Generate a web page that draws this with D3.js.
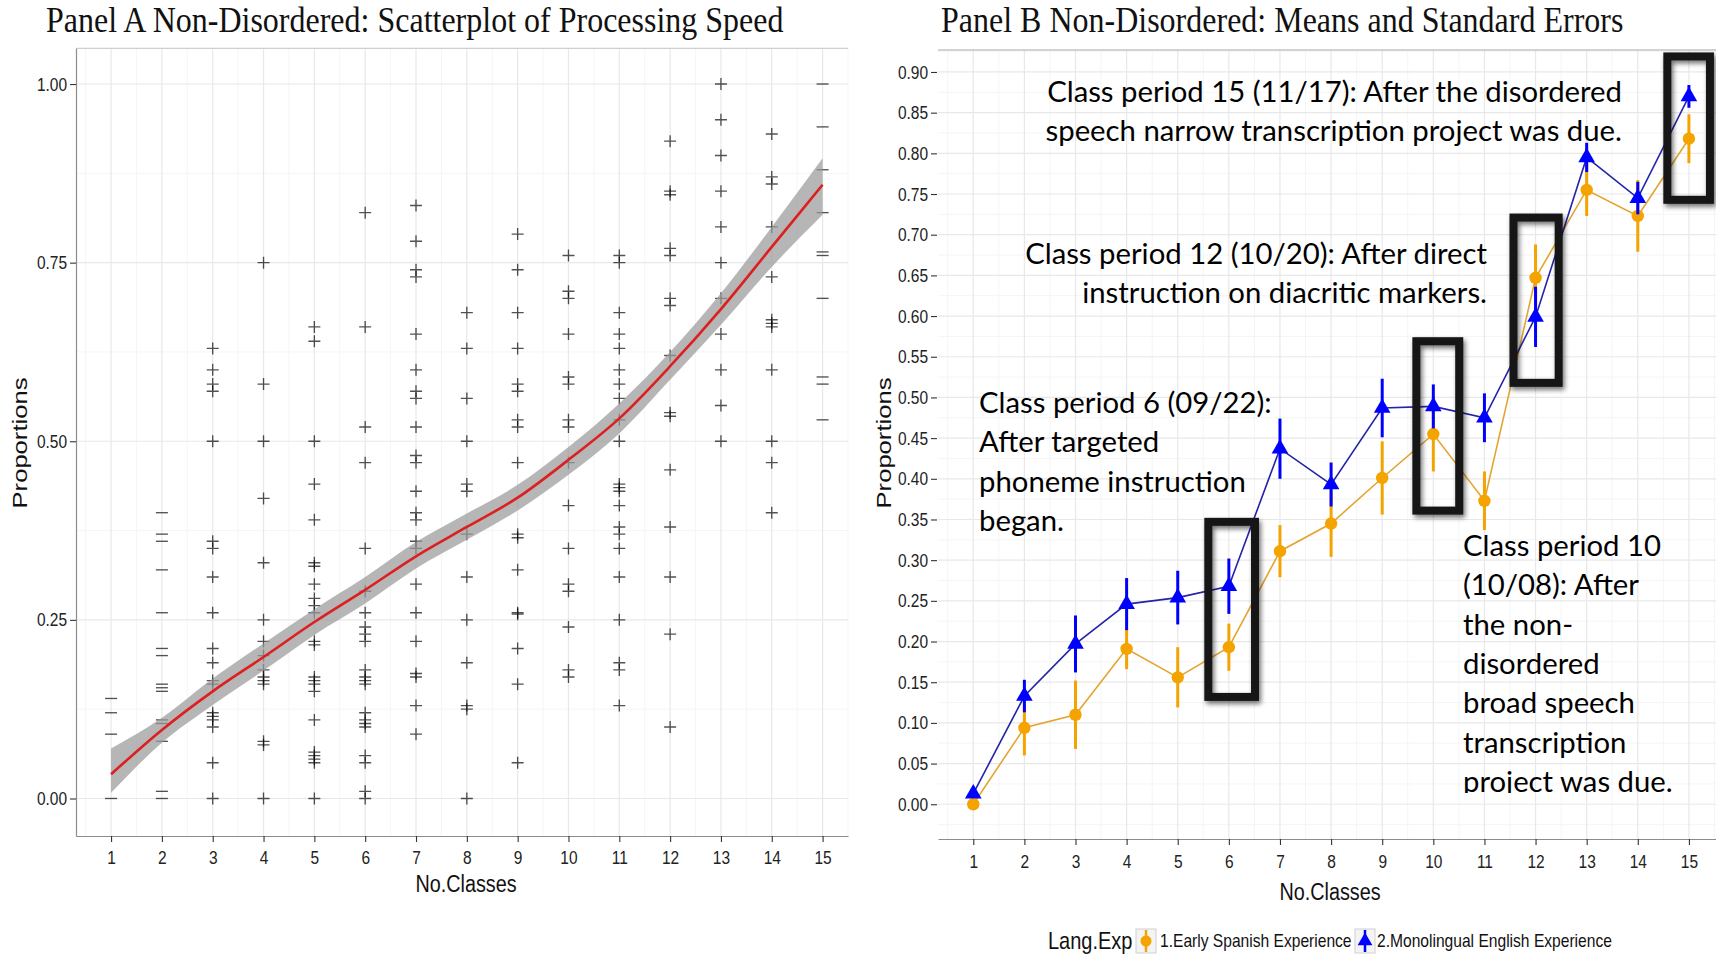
<!DOCTYPE html>
<html>
<head>
<meta charset="utf-8">
<script src="https://cdn.jsdelivr.net/npm/d3@7"></script>
<style>
  body { margin: 0; background: #fff; }
  svg { display: block; }
  .axis text { font-family: "Liberation Sans", Arial, sans-serif; fill: #222; }
</style>
</head>
<body>
<script>
(function() {

    //class periods (x categories)
    var classes = [1, 2, 3, 4, 5, 6, 7, 8, 9, 10, 11, 12, 13, 14, 15];

    //panel A: individual proportions per class period
    var speedPoints = [
        [0.14, 0.12, 0.09, 0.00],
        [0.40, 0.37, 0.36, 0.32, 0.26, 0.21, 0.20, 0.16, 0.155, 0.15, 0.11, 0.105, 0.08, 0.01, 0.00],
        [0.63, 0.60, 0.58, 0.57, 0.50, 0.36, 0.35, 0.31, 0.26, 0.21, 0.19, 0.165, 0.16, 0.12, 0.115, 0.11, 0.10, 0.05, 0.00],
        [0.75, 0.58, 0.50, 0.42, 0.33, 0.25, 0.22, 0.20, 0.18, 0.17, 0.165, 0.16, 0.08, 0.075, 0.00],
        [0.66, 0.64, 0.50, 0.44, 0.39, 0.33, 0.325, 0.30, 0.28, 0.27, 0.26, 0.22, 0.215, 0.17, 0.165, 0.16, 0.15, 0.11, 0.065, 0.06, 0.055, 0.05, 0.00],
        [0.82, 0.66, 0.52, 0.47, 0.35, 0.29, 0.26, 0.24, 0.23, 0.22, 0.18, 0.17, 0.165, 0.16, 0.12, 0.11, 0.105, 0.10, 0.06, 0.05, 0.01, 0.00],
        [0.83, 0.78, 0.74, 0.73, 0.65, 0.60, 0.57, 0.56, 0.52, 0.48, 0.47, 0.43, 0.40, 0.39, 0.36, 0.35, 0.30, 0.26, 0.22, 0.175, 0.17, 0.13, 0.09],
        [0.68, 0.63, 0.56, 0.50, 0.44, 0.43, 0.37, 0.31, 0.25, 0.19, 0.13, 0.125, 0.00],
        [0.79, 0.74, 0.68, 0.63, 0.58, 0.57, 0.53, 0.52, 0.47, 0.37, 0.365, 0.32, 0.26, 0.258, 0.21, 0.16, 0.05],
        [0.76, 0.71, 0.70, 0.65, 0.59, 0.58, 0.53, 0.52, 0.47, 0.41, 0.35, 0.30, 0.29, 0.24, 0.18, 0.17],
        [0.76, 0.75, 0.68, 0.65, 0.63, 0.60, 0.58, 0.56, 0.53, 0.50, 0.44, 0.435, 0.43, 0.41, 0.38, 0.37, 0.35, 0.31, 0.25, 0.19, 0.18, 0.13],
        [0.92, 0.85, 0.845, 0.77, 0.76, 0.70, 0.69, 0.62, 0.54, 0.535, 0.46, 0.38, 0.31, 0.23, 0.10],
        [1.00, 0.95, 0.90, 0.85, 0.80, 0.75, 0.70, 0.65, 0.60, 0.55, 0.50],
        [0.93, 0.87, 0.86, 0.80, 0.73, 0.67, 0.665, 0.66, 0.60, 0.50, 0.47, 0.40],
        [1.00, 0.94, 0.88, 0.82, 0.765, 0.76, 0.70, 0.59, 0.58, 0.53]
    ];
    //classes whose marks show only as dashes in the original
    var dashClasses = [1, 2, 15];

    //panel A: smoothed trend and its confidence band
    var fitMean  = [0.034, 0.096, 0.150, 0.198, 0.247, 0.292, 0.339, 0.380, 0.421, 0.474, 0.532, 0.605, 0.685, 0.772, 0.859];
    var fitLower = [0.008, 0.078, 0.131, 0.179, 0.229, 0.273, 0.322, 0.362, 0.403, 0.453, 0.511, 0.586, 0.663, 0.744, 0.817];
    var fitUpper = [0.070, 0.113, 0.168, 0.217, 0.265, 0.310, 0.359, 0.399, 0.439, 0.492, 0.553, 0.625, 0.707, 0.800, 0.896];

    //panel B: group means and standard errors
    var spanishMean = [0.000, 0.094, 0.110, 0.191, 0.156, 0.193, 0.311, 0.345, 0.401, 0.455, 0.373, 0.647, 0.755, 0.723, 0.818];
    var spanishSE   = [0.005, 0.034, 0.042, 0.025, 0.037, 0.029, 0.032, 0.041, 0.045, 0.046, 0.036, 0.041, 0.032, 0.044, 0.030];
    var englishMean = [0.013, 0.133, 0.197, 0.246, 0.254, 0.268, 0.437, 0.393, 0.487, 0.489, 0.475, 0.599, 0.795, 0.745, 0.870];
    var englishSE   = [0.004, 0.020, 0.035, 0.032, 0.033, 0.034, 0.037, 0.027, 0.036, 0.027, 0.030, 0.037, 0.018, 0.020, 0.014];
    var groupLabels = ["1.Early Spanish Experience", "2.Monolingual English Experience"];

    //tick labels
    var ticksA = [0, 0.25, 0.50, 0.75, 1.00];
    var ticksB = [0, 0.05, 0.10, 0.15, 0.20, 0.25, 0.30, 0.35, 0.40, 0.45, 0.50, 0.55, 0.60, 0.65, 0.70, 0.75, 0.80, 0.85, 0.90];

    //highlighted class periods in panel B (data units)
    var boxes = [
        {x0: 5.52, x1: 6.59, y0: 0.127, y1: 0.352},
        {x0: 9.59, x1: 10.585, y0: 0.356, y1: 0.574},
        {x0: 11.49, x1: 12.53, y0: 0.513, y1: 0.726},
        {x0: 14.50, x1: 15.49, y0: 0.738, y1: 0.924}
    ];

    //annotation texts (pixel layout)
    var notes = [
        {x: 1622, y: 102, anchor: "end", lines: ["Class period 15 (11/17): After the disordered", "speech narrow transcription project was due."]},
        {x: 1487, y: 264, anchor: "end", lines: ["Class period 12 (10/20): After direct", "instruction on diacritic markers."]},
        {x: 979, y: 413, anchor: "start", lines: ["Class period 6 (09/22):", "After targeted", "phoneme instruction", "began."]},
        {x: 1463, y: 556, anchor: "start", clip: 793, lines: ["Class period 10", "(10/08): After", "the non-", "disordered", "broad speech", "transcription", "project was due."]}
    ];

    var W = 1716, H = 955;
    var SY = 1.22; //the original picture is stretched vertically
    var orange = "#f4a300", orangeLine = "#e3a530", blue = "#0000ff", blueLine = "#2424a8";

    var svg = d3.select("body").append("svg")
        .attr("width", W)
        .attr("height", H);

    var defs = svg.append("defs");
    defs.append("filter")
        .attr("id", "shadow")
        .attr("x", "-30%").attr("y", "-30%").attr("width", "160%").attr("height", "160%")
        .append("feDropShadow")
        .attr("dx", 2).attr("dy", 3)
        .attr("stdDeviation", 2.5)
        .attr("flood-color", "#000")
        .attr("flood-opacity", 0.55);

    //helper for vertically stretched text
    function addText(parent, x, y, str, size, family, anchor, rotate, sy) {
        var g = parent.append("g")
            .attr("transform", "translate(" + x + "," + y + ") scale(1," + (sy || SY) + ")" + (rotate ? " rotate(-90)" : ""));
        return g.append("text")
            .attr("text-anchor", anchor || "start")
            .style("font-family", family)
            .style("font-size", size + "px")
            .style("fill", "#111")
            .text(str);
    }

    var sans = "'Liberation Sans', Arial, sans-serif",
        serif = "'Liberation Serif', 'Times New Roman', serif";

    //titles
    addText(svg, 46, 32, "Panel A Non-Disordered: Scatterplot of Processing Speed", 32, serif, "start", false, 1.12);
    addText(svg, 941, 32, "Panel B Non-Disordered: Means and Standard Errors", 32, serif, "start", false, 1.12);

    //grid drawing
    function drawGrid(g, x, y, xMajor, xMinor, yMajor, yMinor) {
        var r = x.range(), ry = y.range();
        g.selectAll(".vminor").data(xMinor).enter().append("line")
            .attr("x1", x).attr("x2", x).attr("y1", ry[0]).attr("y2", ry[1])
            .style("stroke", "#f5f5f5").style("stroke-width", 1);
        g.selectAll(".hminor").data(yMinor).enter().append("line")
            .attr("y1", y).attr("y2", y).attr("x1", r[0]).attr("x2", r[1])
            .style("stroke", "#f5f5f5").style("stroke-width", 1);
        g.selectAll(".vmajor").data(xMajor).enter().append("line")
            .attr("x1", x).attr("x2", x).attr("y1", ry[0]).attr("y2", ry[1])
            .style("stroke", "#e8e8e8").style("stroke-width", 1.2);
        g.selectAll(".hmajor").data(yMajor).enter().append("line")
            .attr("y1", y).attr("y2", y).attr("x1", r[0]).attr("x2", r[1])
            .style("stroke", "#e8e8e8").style("stroke-width", 1.2);
    }

    function halfSteps(arr) {
        var out = [arr[0] - (arr[1] - arr[0]) / 2];
        arr.forEach(function(v, i) {
            var step = (i < arr.length - 1) ? arr[i + 1] - v : v - arr[i - 1];
            out.push(v + step / 2);
        });
        return out;
    }

    function styleAxis(ax, withDomain) {
        ax.selectAll(".tick line").style("stroke", "#333").style("stroke-width", 1.1);
        ax.selectAll("text").attr("transform", "scale(1," + SY + ")");
        if (withDomain) {
            ax.select(".domain").style("stroke", "#8c8c8c").style("stroke-width", 1.2);
        } else {
            ax.select(".domain").remove();
        }
    }

    // ---------------- Panel A ----------------
    var xA = d3.scaleLinear().domain([0.31, 15.5]).range([76, 848]);
    var yA = d3.scaleLinear().domain([-0.0525, 1.05]).range([836, 48.3]);

    var panelA = svg.append("g").attr("class", "panelA");
    drawGrid(panelA, xA, yA, classes, halfSteps(classes), ticksA, halfSteps(ticksA).slice(1, 5));

    panelA.append("line")
        .attr("x1", 76).attr("x2", 848).attr("y1", 48.3).attr("y2", 48.3)
        .style("stroke", "#cfcfcf").style("stroke-width", 1.2);

    //scatter marks
    var flat = [];
    speedPoints.forEach(function(col, i) {
        col.forEach(function(v) { flat.push({c: classes[i], v: v}); });
    });
    var arm = 6;
    panelA.selectAll(".mark").data(flat).enter().append("path")
        .attr("class", "mark")
        .attr("d", function(d) {
            var cx = xA(d.c), cy = yA(d.v);
            var p = "M" + (cx - arm) + "," + cy + "H" + (cx + arm);
            if (dashClasses.indexOf(d.c) < 0) p += "M" + cx + "," + (cy - arm) + "V" + (cy + arm);
            return p;
        })
        .style("stroke", "#000")
        .style("stroke-width", 1.35)
        .style("opacity", 0.68)
        .style("fill", "none");

    //confidence band and trend
    var fitData = classes.map(function(c, i) { return {c: c, m: fitMean[i], lo: fitLower[i], hi: fitUpper[i]}; });
    panelA.append("path")
        .datum(fitData)
        .attr("d", d3.area()
            .x(function(d) { return xA(d.c); })
            .y0(function(d) { return yA(d.lo); })
            .y1(function(d) { return yA(d.hi); })
            .curve(d3.curveMonotoneX))
        .style("fill", "#9a9a9a")
        .style("opacity", 0.72);
    panelA.append("path")
        .datum(fitData)
        .attr("d", d3.line()
            .x(function(d) { return xA(d.c); })
            .y(function(d) { return yA(d.m); })
            .curve(d3.curveMonotoneX))
        .style("fill", "none")
        .style("stroke", "#dd1f1f")
        .style("stroke-width", 2.6);

    //axes
    var axAy = panelA.append("g").attr("class", "axis")
        .attr("transform", "translate(76,0)")
        .call(d3.axisLeft(yA).tickValues(ticksA).tickFormat(d3.format(".2f")).tickSize(6).tickSizeOuter(0).tickPadding(3));
    axAy.selectAll("text").style("font-size", "15.5px");
    styleAxis(axAy, true);

    var axAx = panelA.append("g").attr("class", "axis")
        .attr("transform", "translate(0,836)")
        .call(d3.axisBottom(xA).tickValues(classes).tickFormat(d3.format("d")).tickSize(6).tickSizeOuter(0).tickPadding(6));
    axAx.selectAll("text").style("font-size", "15.5px");
    styleAxis(axAx, true);

    addText(panelA, 466, 892, "No.Classes", 19.8, sans, "middle");
    addText(panelA, 27, 443, "Proportions", 21, sans, "middle", true);

    // ---------------- Panel B ----------------
    var xB = d3.scaleLinear().domain([0.31, 15.53]).range([938, 1716]);
    var yB = d3.scaleLinear().domain([-0.0427, 0.927]).range([839, 50]);

    var panelB = svg.append("g").attr("class", "panelB");
    drawGrid(panelB, xB, yB, classes, halfSteps(classes), ticksB, halfSteps(ticksB));

    panelB.append("line")
        .attr("x1", 938).attr("x2", 1716).attr("y1", 50).attr("y2", 50)
        .style("stroke", "#a8a8a8").style("stroke-width", 1.2);

    var spanish = classes.map(function(c, i) { return {c: c, m: spanishMean[i], se: spanishSE[i]}; });
    var english = classes.map(function(c, i) { return {c: c, m: englishMean[i], se: englishSE[i]}; });

    var lineB = d3.line()
        .x(function(d) { return xB(d.c); })
        .y(function(d) { return yB(d.m); });

    panelB.append("path").datum(spanish).attr("d", lineB)
        .style("fill", "none").style("stroke", orangeLine).style("stroke-width", 1.6);
    panelB.append("path").datum(english).attr("d", lineB)
        .style("fill", "none").style("stroke", blueLine).style("stroke-width", 1.6);

    //orange point ranges
    panelB.selectAll(".barS").data(spanish).enter().append("line")
        .attr("x1", function(d) { return xB(d.c); })
        .attr("x2", function(d) { return xB(d.c); })
        .attr("y1", function(d) { return yB(d.m - d.se); })
        .attr("y2", function(d) { return yB(d.m + d.se); })
        .style("stroke", orange).style("stroke-width", 3);
    panelB.selectAll(".ptS").data(spanish).enter().append("circle")
        .attr("cx", function(d) { return xB(d.c); })
        .attr("cy", function(d) { return yB(d.m); })
        .attr("r", 6.2)
        .style("fill", orange);

    //blue point ranges
    var tri = d3.symbol().type(d3.symbolTriangle).size(120);
    panelB.selectAll(".barE").data(english).enter().append("line")
        .attr("x1", function(d) { return xB(d.c); })
        .attr("x2", function(d) { return xB(d.c); })
        .attr("y1", function(d) { return yB(d.m - d.se); })
        .attr("y2", function(d) { return yB(d.m + d.se); })
        .style("stroke", blue).style("stroke-width", 3);
    panelB.selectAll(".ptE").data(english).enter().append("path")
        .attr("d", tri)
        .attr("transform", function(d) { return "translate(" + xB(d.c) + "," + yB(d.m) + ")"; })
        .style("fill", blue);

    //axes
    var axBy = panelB.append("g").attr("class", "axis")
        .attr("transform", "translate(937,0)")
        .call(d3.axisLeft(yB).tickValues(ticksB).tickFormat(d3.format(".2f")).tickSize(6).tickSizeOuter(0).tickPadding(3));
    axBy.selectAll("text").style("font-size", "15.5px");
    styleAxis(axBy, false);

    var axBx = panelB.append("g").attr("class", "axis")
        .attr("transform", "translate(0,839)")
        .call(d3.axisBottom(xB).tickValues(classes).tickFormat(d3.format("d")).tickSize(6).tickSizeOuter(0).tickPadding(7));
    axBx.selectAll("text").style("font-size", "15.5px");
    styleAxis(axBx, true);

    addText(panelB, 1330, 900, "No.Classes", 19.8, sans, "middle");
    addText(panelB, 891, 443, "Proportions", 21, sans, "middle", true);

    //highlight boxes
    var sw = 8;
    panelB.selectAll(".hbox").data(boxes).enter().append("rect")
        .attr("x", function(d) { return xB(d.x0) + sw / 2; })
        .attr("y", function(d) { return yB(d.y1) + sw / 2; })
        .attr("width", function(d) { return xB(d.x1) - xB(d.x0) - sw; })
        .attr("height", function(d) { return yB(d.y0) - yB(d.y1) - sw; })
        .style("fill", "none")
        .style("stroke", "#141414")
        .style("stroke-width", sw)
        .attr("filter", "url(#shadow)");

    //annotation texts
    notes.forEach(function(n, k) {
        var g = panelB.append("g");
        if (n.clip) {
            defs.append("clipPath").attr("id", "clip" + k)
                .append("rect").attr("x", 0).attr("y", 0).attr("width", W).attr("height", n.clip);
            g.attr("clip-path", "url(#clip" + k + ")");
        }
        n.lines.forEach(function(line, i) {
            var gg = g.append("g")
                .attr("transform", "translate(" + n.x + "," + (n.y + i * 39.3) + ") scale(1,1.0)");
            gg.append("text")
                .attr("text-anchor", n.anchor)
                .style("font-family", "Lato, 'Open Sans', sans-serif")
                .style("font-size", "29.3px")
                .style("fill", "#000")
                .text(line);
        });
    });

    //legend
    var legend = svg.append("g").attr("class", "legend");
    addText(legend, 1048, 949, "Lang.Exp", 20, sans);
    var keys = [
        {x: 1136, label: groupLabels[0], color: orange, shape: "circle", tx: 1160},
        {x: 1355, label: groupLabels[1], color: blue, shape: "triangle", tx: 1377}
    ];
    keys.forEach(function(k) {
        legend.append("rect")
            .attr("x", k.x).attr("y", 929).attr("width", 20).attr("height", 24)
            .style("fill", "#f4f4f4").style("stroke", "#d0d0d0").style("stroke-width", 1);
        legend.append("line")
            .attr("x1", k.x + 10).attr("x2", k.x + 10).attr("y1", 930).attr("y2", 952)
            .style("stroke", k.color).style("stroke-width", 2.5);
        if (k.shape === "circle") {
            legend.append("circle").attr("cx", k.x + 10).attr("cy", 941).attr("r", 5.5).style("fill", k.color);
        } else {
            legend.append("path").attr("d", d3.symbol().type(d3.symbolTriangle).size(95))
                .attr("transform", "translate(" + (k.x + 10) + ",941)").style("fill", k.color);
        }
        addText(legend, k.tx, 947, k.label, 15.6, sans);
    });

})();
</script>
</body>
</html>
